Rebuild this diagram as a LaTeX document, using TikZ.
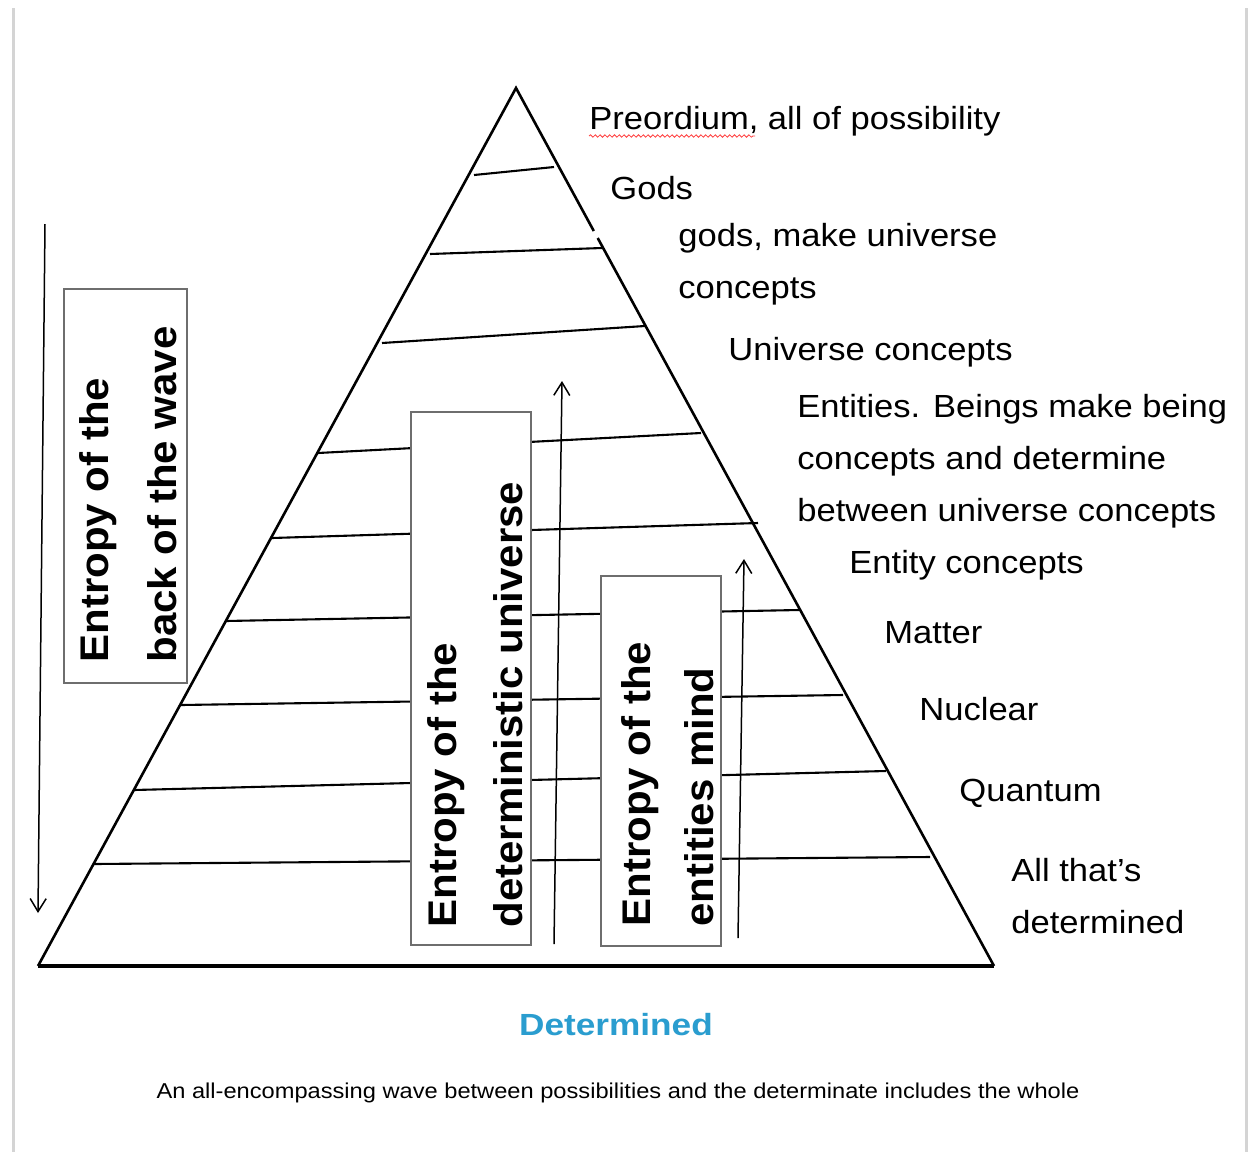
\documentclass[tikz,border=0pt]{standalone}
\usepackage{fontspec}
\setmainfont{Liberation Sans}
\newfontfamily\labfont[FakeStretch=1.08]{Liberation Sans}
\newfontfamily\detfont[FakeStretch=1.15]{Liberation Sans}
\newfontfamily\boxfont[FakeStretch=1.05]{Liberation Sans}
\newfontfamily\capfont[FakeStretch=1.1]{Liberation Sans}
\usetikzlibrary{arrows.meta,decorations.pathmorphing}
\definecolor{detblue}{RGB}{42,157,207}
\definecolor{edgegray}{RGB}{212,212,212}
\definecolor{boxgray}{RGB}{110,110,110}
\begin{document}
\begin{tikzpicture}[x=0.5pt,y=-0.5pt,
  lab/.style={anchor=base west, inner sep=0pt, font=\labfont\fontsize{16pt}{26pt}\selectfont},
  vtxt/.style={rotate=90, anchor=base west, inner sep=0pt, font=\boxfont\bfseries\fontsize{20pt}{24pt}\selectfont},
  tier/.style={line width=1.05pt},
  pedge/.style={line width=1.3pt, line join=miter},
  ebox/.style={draw=boxgray, line width=0.6pt, fill=white, inner sep=0pt},
  flow/.style={line width=0.75pt, -{Straight Barb[length=6.5pt,width=8pt]}}
]
\fill[white] (0,0) rectangle (1248,1152);
\useasboundingbox (0,0) rectangle (1248,1152);

% page edges
\draw[edgegray, line width=1.5pt] (13,8) -- (13,1152);
\draw[edgegray, line width=1.5pt] (1246.5,8) -- (1246.5,1152);

% pyramid
\coordinate (apex) at (516,88);
\coordinate (bl) at (38,966);
\coordinate (br) at (994,966);
\coordinate (gapA) at (593.8,231);
\coordinate (gapB) at (597.7,238);
\draw[pedge] (bl) -- (apex) -- (gapA);
\draw[pedge] (gapB) -- (br);
\draw[line width=1.6pt] (bl) -- (br);

% tiers
\coordinate (t1a) at (474,175); \coordinate (t1b) at (554,167);
\coordinate (t2a) at (430,254); \coordinate (t2b) at (602,248);
\coordinate (t3a) at (382,343); \coordinate (t3b) at (645,326);
\coordinate (t4a) at (318,453); \coordinate (t4b) at (701,433);
\coordinate (t5a) at (272,538); \coordinate (t5b) at (758,523);
\coordinate (t6a) at (226,621); \coordinate (t6b) at (799,610);
\coordinate (t7a) at (181,705); \coordinate (t7b) at (843,695);
\coordinate (t8a) at (134,790); \coordinate (t8b) at (886,771);
\coordinate (t9a) at (94,864);  \coordinate (t9b) at (930,857);
\foreach \i in {1,...,9} {\draw[tier] (t\i a) -- (t\i b);}

% boxes
\node[ebox, minimum width=61.5pt, minimum height=197pt] (boxA) at (125.5,486) {};
\node[ebox, minimum width=60pt, minimum height=266.5pt] (boxB) at (471,678.5) {};
\node[ebox, minimum width=60pt, minimum height=185pt] (boxC) at (661,761) {};

\node[vtxt] (a1) at (108,663) {Entropy of the};
\node[vtxt] (a2) at (176,663) {back of the wave};
\node[vtxt] (b1) at (456,928) {Entropy of the};
\node[vtxt] (b2) at (522,928) {deterministic universe};
\node[vtxt] (c1) at (650,927) {Entropy of the};
\node[vtxt] (c2) at (713,927) {entities mind};

% arrows
\coordinate (d0) at (45,224); \coordinate (d1) at (38,913);
\coordinate (u0) at (554,944); \coordinate (u1) at (562,381);
\coordinate (v0) at (738,938); \coordinate (v1) at (744,559);
\draw[flow] (d0) -- (d1);
\draw[flow] (u0) -- (u1);
\draw[flow] (v0) -- (v1);

% labels
\node[lab] (l1) at (589,129) {Preordium, all of possibility};
\draw[red!75, line width=0.4pt, decorate, decoration={snake, amplitude=0.6pt, segment length=2.4pt}] (589,136) -- (755,136);
\node[lab] (l2) at (610,199) {Gods};
\node[lab] (l3) at (678,246) {gods, make universe};
\node[lab] (l4) at (678,298) {concepts};
\node[lab] (l5) at (728,360) {Universe concepts};
\node[lab] (l6) at (797,417) {Entities. Beings make being};
\node[lab] (l7) at (797,469) {concepts and determine};
\node[lab] (l8) at (797,521) {between universe concepts};
\node[lab] (l9) at (849,573) {Entity concepts};
\node[lab] (l10) at (884,643) {Matter};
\node[lab] (l11) at (919,720) {Nuclear};
\node[lab] (l12) at (959,801) {Quantum};
\node[lab] (l13) at (1011,881) {All that’s};
\node[lab] (l14) at (1011,933) {determined};

\node[anchor=base, inner sep=0pt, text=detblue, font=\detfont\bfseries\fontsize{15.3pt}{18pt}\selectfont] (det) at (616,1035) {Determined};
\node[anchor=base, inner sep=0pt, font=\capfont\fontsize{10.75pt}{12pt}\selectfont] (cap) at (618,1098) {An all-encompassing wave between possibilities and the determinate includes the whole};
\end{tikzpicture}
\end{document}
